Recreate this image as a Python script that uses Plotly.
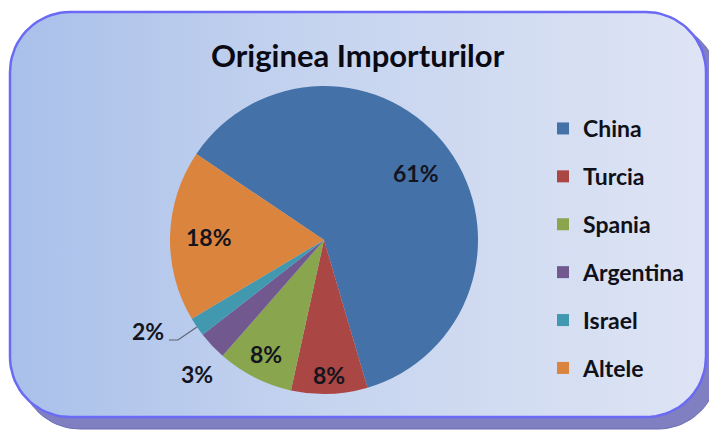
import numpy as np
import plotly.graph_objects as go

# ---- data ----
labels = ["China", "Turcia", "Spania", "Argentina", "Israel", "Altele"]
values = [61, 8, 8, 3, 2, 18]
pct_text = ["61%", "8%", "8%", "3%", "2%", "18%"]
colors = ["#4471A8", "#AA4643", "#89A54E", "#71588F", "#4198AF", "#DB843D"]
title_text = "Originea Importurilor"

# ---- geometry / style ----
W, H = 717, 430
OFF = 8                            # page body margin compensation
CX, CY, R = 324, 240, 154          # pie centre/radius in page pixels (top-left origin)
ROTATION = -56
label_r = [0.74, 0.88, 0.83, 1.20, 1.27, 0.75]
label_dt = [0, 0, 0, -3, 6, 0]
FONT = "Lato"

def rrect(x0, y0, x1, y1, r, n=20):
    """rounded rectangle in page pixel coords -> data coords"""
    pts = []
    corners = [(x1 - r, y0 + r, -90, 0), (x1 - r, y1 - r, 0, 90),
               (x0 + r, y1 - r, 90, 180), (x0 + r, y0 + r, 180, 270)]
    for ccx, ccy, a0, a1 in corners:
        for a in np.linspace(np.radians(a0), np.radians(a1), n):
            pts.append((ccx + r * np.cos(a), ccy + r * np.sin(a)))
    pts.append(pts[0])
    xs = [p[0] for p in pts]
    ys = [H - p[1] for p in pts]
    return xs, ys

fig = go.Figure()

# shadow
sx, sy = rrect(20, 23, 718, 429, 60)
fig.add_trace(go.Scatter(x=sx, y=sy, mode="lines", fill="toself",
                         fillcolor="#7F7FC2", line=dict(color="#6C6CB4", width=1),
                         hoverinfo="skip", showlegend=False))
# panel
px, py = rrect(10, 12, 706, 417, 60)
fig.add_trace(go.Scatter(x=px, y=py, mode="lines", fill="toself",
                         fillgradient=dict(type="horizontal",
                                           colorscale=[[0, "#A9C0EA"], [0.45, "#C6D4EF"], [1, "#DEE4F4"]]),
                         line=dict(color="#6A6AF5", width=2.5),
                         hoverinfo="skip", showlegend=False))

# pie
fx, fy = CX - OFF, CY - OFF
fig.add_trace(go.Pie(labels=labels, values=values, sort=False, direction="clockwise",
                     rotation=ROTATION, textinfo="none", hoverinfo="skip",
                     marker=dict(colors=colors, line=dict(width=0)),
                     showlegend=False,
                     domain=dict(x=[(fx - R) / W, (fx + R) / W],
                                 y=[(H - fy - R) / H, (H - fy + R) / H])))

# legend via marker entries
for lab, col in zip(labels, colors):
    fig.add_trace(go.Scatter(x=[None], y=[None], mode="markers", name=lab, legendgroup=lab,
                             marker=dict(symbol="square", size=12, color=col)))

# percentage labels
total = sum(values)
cum = np.cumsum(values)
annotations = []
lab_font = dict(family=FONT, size=23, color="#14141E", weight="bold")
for i, v in enumerate(values):
    start = ROTATION + 360 * (cum[i] - v) / total
    mid = start + 180 * v / total
    if labels[i] == "Israel":
        t = np.radians(mid)
        p0 = (CX + R * np.sin(t), CY - R * np.cos(t))
        p1 = (p0[0] - 19, p0[1] + 13)
        p2 = (p1[0] - 9, p1[1])
        fig.add_trace(go.Scatter(x=[p0[0], p1[0], p2[0]], y=[H - p0[1], H - p1[1], H - p2[1]],
                                 mode="lines", line=dict(color="#5A6470", width=1.2),
                                 hoverinfo="skip", showlegend=False))
        annotations.append(dict(x=p2[0] - 3, y=H - (p2[1] - 9), text=pct_text[i], xref="x", yref="y",
                                xanchor="right", yanchor="middle", showarrow=False, font=lab_font))
        continue
    t = np.radians(mid + label_dt[i])
    lx = CX + R * label_r[i] * np.sin(t)
    ly = CY - R * label_r[i] * np.cos(t)
    annotations.append(dict(x=lx, y=H - ly, text=pct_text[i], xref="x", yref="y",
                            xanchor="center", yanchor="middle", showarrow=False, font=lab_font))

annotations.append(dict(x=358, y=H - 55, text=title_text, xref="x", yref="y",
                        xanchor="center", yanchor="middle", showarrow=False,
                        font=dict(family=FONT, size=31, color="#0A0A14", weight="bold")))

fig.update_layout(
    width=W, height=H, autosize=False,
    margin=dict(l=0, r=0, t=0, b=0),
    paper_bgcolor="white", plot_bgcolor="rgba(0,0,0,0)",
    xaxis=dict(range=[OFF, W + OFF], visible=False, fixedrange=True, domain=[0, 1]),
    yaxis=dict(range=[-OFF, H - OFF], visible=False, fixedrange=True, domain=[0, 1]),
    annotations=annotations,
    showlegend=True,
    legend=dict(x=535 / W, y=(H - 99) / H, xanchor="left", yanchor="top",
                bgcolor="rgba(0,0,0,0)", tracegroupgap=15,
                font=dict(family=FONT, size=23, color="#101018", weight="bold")),
)

fig.write_html("out.html")
